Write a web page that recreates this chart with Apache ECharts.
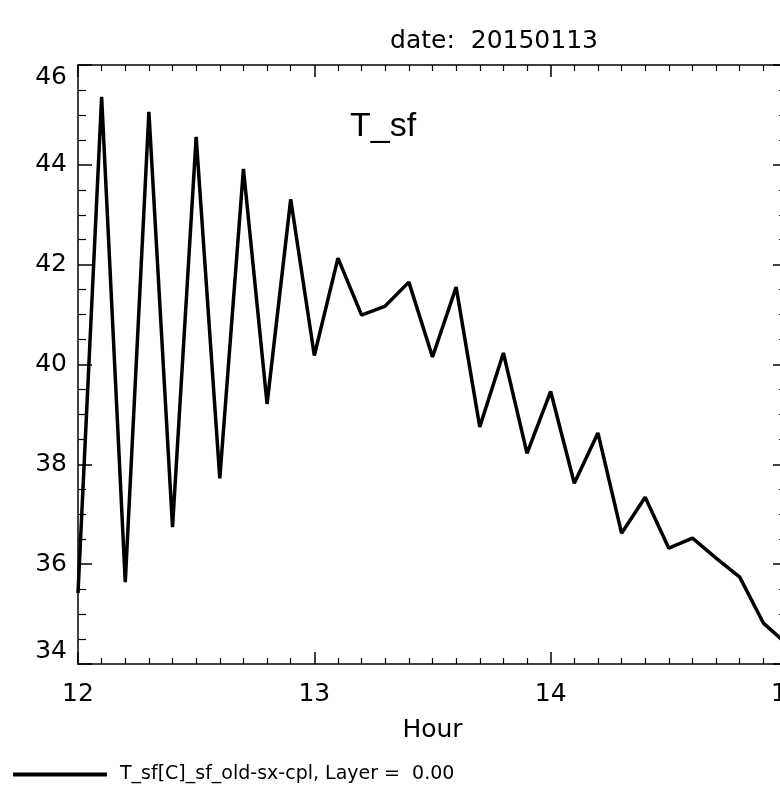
<!DOCTYPE html>
<html>
<head>
<meta charset="utf-8">
<title>T_sf</title>
<script src="https://cdn.jsdelivr.net/npm/echarts@6/dist/echarts.min.js"></script>
<style>
  html, body { margin: 0; padding: 0; background: #fff; }
  #chart { width: 780px; height: 789px; }
</style>
</head>
<body>
<div id="chart"></div>
<script>
// hours (every 6 minutes) and surface temperature
var hours = [12.0, 12.1, 12.2, 12.3, 12.4, 12.5, 12.6, 12.7, 12.8, 12.9,
             13.0, 13.1, 13.2, 13.3, 13.4, 13.5, 13.6, 13.7, 13.8, 13.9,
             14.0, 14.1, 14.2, 14.3, 14.4, 14.5, 14.6, 14.7, 14.8, 14.9, 15.0];
var tsf = [35.42, 45.36, 35.64, 45.06, 36.74, 44.56, 37.72, 43.92, 39.21, 43.31,
           40.18, 42.13, 40.99, 41.17, 41.65, 40.15, 41.55, 38.75, 40.23, 38.22,
           39.46, 37.62, 38.63, 36.62, 37.34, 36.32, 36.52, 36.12, 35.74, 34.82, 34.40];
var xTicks = { min: 12, max: 15, step: 1 };
var yTicks = { min: 34, max: 46, step: 2 };
var seriesName = 'T_sf[C]_sf_old-sx-cpl, Layer =  0.00';

var FONT = 'DejaVu Sans';

function axisX(pos, labels) {
    return {
        type: 'value', position: pos, min: xTicks.min, max: xTicks.max, interval: xTicks.step,
        axisLine: { show: true, onZero: false, lineStyle: { color: '#000', width: 1.5 } },
        axisTick: { show: true, inside: true, length: 12, lineStyle: { color: '#000', width: 1.5 } },
        minorTick: { show: true, splitNumber: 10, length: 6, lineStyle: { color: '#000', width: 1.2 } },
        splitLine: { show: false },
        axisLabel: { show: labels, color: '#000', fontFamily: FONT, fontSize: 25, margin: 18 },
        name: labels ? 'Hour' : '', nameLocation: 'middle', nameGap: 54,
        nameTextStyle: { color: '#000', fontFamily: FONT, fontSize: 25 }
    };
}
function axisY(pos, labels) {
    return {
        type: 'value', position: pos, min: yTicks.min, max: yTicks.max, interval: yTicks.step,
        axisLine: { show: true, onZero: false, lineStyle: { color: '#000', width: 1.5 } },
        axisTick: { show: true, inside: true, length: 14, lineStyle: { color: '#000', width: 1.5 } },
        minorTick: { show: true, splitNumber: 4, length: 8, lineStyle: { color: '#000', width: 1.2 } },
        splitLine: { show: false },
        axisLabel: { show: labels, color: '#000', fontFamily: FONT, fontSize: 25, margin: 11,
                     verticalAlignMaxLabel: 'top', verticalAlignMinLabel: 'bottom' }
    };
}

var myChart = echarts.init(document.getElementById('chart'), null, { renderer: 'canvas' });
myChart.setOption({
    animation: false,
    backgroundColor: '#fff',
    title: {
        text: 'date:  20150113', left: 489, top: 24, textAlign: 'center',
        textStyle: { color: '#000', fontFamily: FONT, fontWeight: 'normal', fontSize: 25 }
    },
    grid: { left: 78, top: 65, width: 709, height: 599, containLabel: false, outerBoundsMode: 'none' },
    xAxis: [axisX('bottom', true), axisX('top', false)],
    yAxis: [axisY('left', true), axisY('right', false)],
    legend: {
        left: 13, top: 765, padding: 0, itemWidth: 94, itemHeight: 4, itemGap: 10,
        icon: 'rect',
        data: [seriesName],
        textStyle: { color: '#000', fontFamily: FONT, fontSize: 19, padding: [0, 0, 0, 8] }
    },
    graphic: [{
        type: 'text', left: 350, top: 110,
        style: { text: 'T_sf', fill: '#000', font: '34px "Liberation Sans", Arial, sans-serif' }
    }],
    series: [{
        name: seriesName, type: 'line', xAxisIndex: 0, yAxisIndex: 0,
        showSymbol: false, symbol: 'none',
        itemStyle: { color: '#000' },
        lineStyle: { color: '#000', width: 3.5 },
        data: hours.map(function (h, i) { return [h, tsf[i]]; })
    }]
});

window.onresize = function () { myChart.resize(); };
</script>
</body>
</html>
